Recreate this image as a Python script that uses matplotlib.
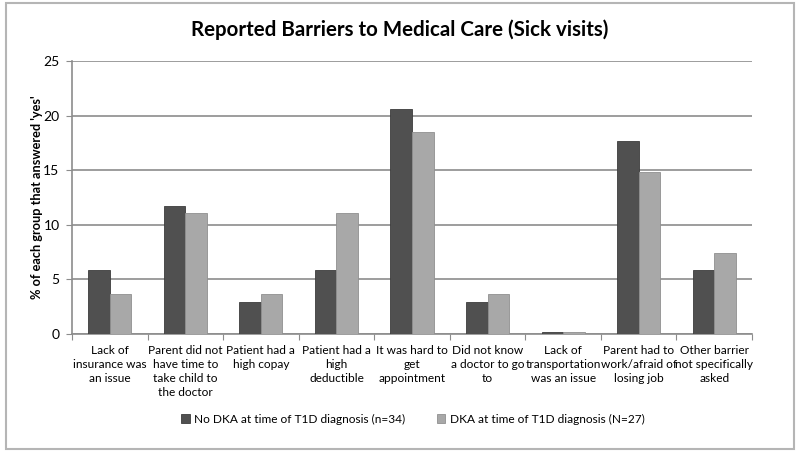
import matplotlib.pyplot as plt
from matplotlib.patches import Rectangle
import numpy as np

categories = [
    'Lack of\ninsurance was\nan issue',
    'Parent did not\nhave time to\ntake child to\nthe doctor',
    'Patient had a\nhigh copay',
    'Patient had a\nhigh\ndeductible',
    'It was hard to\nget\nappointment',
    'Did not know\na doctor to go\nto',
    'Lack of\ntransportation\nwas an issue',
    'Parent had to\nwork/afraid of\nlosing job',
    'Other barrier\nnot specifically\nasked',
]
no_dka = [5.88, 11.76, 2.94, 5.88, 20.59, 2.94, 0.15, 17.65, 5.88]
dka = [3.70, 11.11, 3.70, 11.11, 18.52, 3.70, 0.15, 14.81, 7.41]
labels = ['No DKA at time of T1D diagnosis (n=34)', 'DKA at time of T1D diagnosis (N=27)']

plt.rcParams['font.family'] = ['Lato', 'DejaVu Sans']
plt.rcParams['font.size'] = 9

fig = plt.figure(figsize=(8, 4.53), dpi=100)
ax = fig.add_axes([0.09, 0.2627, 0.85, 0.6026])

x = np.arange(len(categories))
w = 0.285
ax.bar(x - w / 2, no_dka, w, color='#505050', edgecolor='#3c3c3c', linewidth=0.6, label=labels[0], zorder=3)
ax.bar(x + w / 2, dka, w, color='#a8a8a8', edgecolor='#909090', linewidth=0.6, label=labels[1], zorder=3)

ax.set_xlim(-0.5, len(categories) - 0.5)
ax.set_ylim(0, 25)
ax.set_yticks(range(0, 26, 5))
ax.yaxis.grid(True, color='#8c8c8c', linewidth=1.2, zorder=0)
ax.set_axisbelow(True)

ax.set_xticks(np.arange(-0.5, len(categories), 1))
ax.set_xticklabels([])
ax.set_xticks(x, minor=True)
ax.set_xticklabels(categories, minor=True, fontsize=8.6, linespacing=1.33)
ax.tick_params(axis='x', which='minor', length=0, pad=8)
ax.tick_params(axis='x', which='major', length=4, color='#8c8c8c')
ax.tick_params(axis='y', length=4, color='#8c8c8c', labelsize=10, pad=5)

for s in ['top', 'right']:
    ax.spines[s].set_visible(False)
for s in ['left', 'bottom']:
    ax.spines[s].set_color('#8c8c8c')
    ax.spines[s].set_linewidth(1.2)

ax.set_ylabel("% of each group that answered 'yes'", fontsize=9.2, fontweight='bold', labelpad=0)

fig.text(0.5, 0.935, 'Reported Barriers to Medical Care (Sick visits)', ha='center', va='center',
         fontsize=14.8, fontweight='bold')

fig.legend(loc='center', bbox_to_anchor=(0.516, 0.075), ncol=2, frameon=False, fontsize=8.6,
           handlelength=0.7, handleheight=0.7, handletextpad=0.4, columnspacing=2.6)

fig.patches.append(Rectangle((0.007, 0.009), 0.986, 0.984, transform=fig.transFigure,
                             fill=False, edgecolor='#b5b5b5', linewidth=1.5))

fig.savefig('out.png', dpi=100)
